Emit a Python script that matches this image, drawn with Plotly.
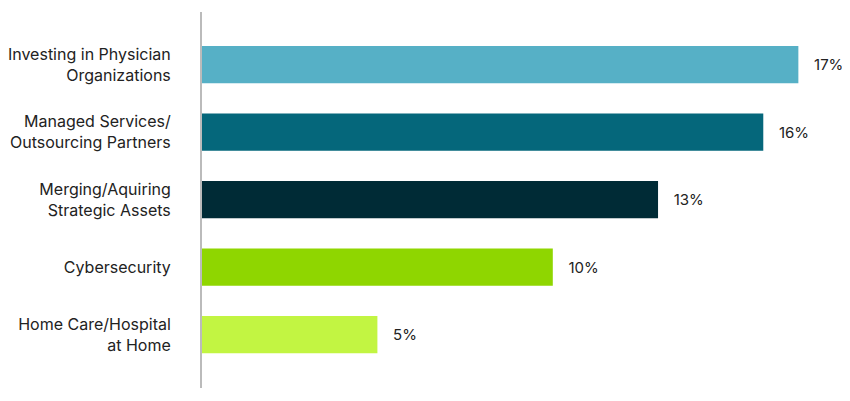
import plotly.graph_objects as go

categories = ["Investing in Physician<br>Organizations",
              "Managed Services/<br>Outsourcing Partners",
              "Merging/Aquiring<br>Strategic Assets",
              "Cybersecurity",
              "Home Care/Hospital<br>at Home"]
values = [17, 16, 13, 10, 5]
colors = ["#56B0C6", "#05677B", "#002B36", "#8FD600", "#C2F542"]

fig = go.Figure(go.Bar(
    x=values, y=categories, orientation="h",
    marker=dict(color=colors, line=dict(width=0)),
    width=0.55,
    text=[f"   {v}%" for v in values], textposition="outside",
    textfont=dict(size=15, color="#222222"), cliponaxis=False,
))

fig.update_layout(
    width=850, height=401,
    margin=dict(l=190, r=0, t=4, b=21),
    plot_bgcolor="white", paper_bgcolor="white",
    font=dict(family="Inter", size=16, color="#222222"),
    showlegend=False,
    xaxis=dict(range=[0, 18.7], visible=False),
    yaxis=dict(range=[4.79, -0.78], showline=True, linecolor="#BBBBBB",
               linewidth=2, ticks="", ticklabelstandoff=26, showgrid=False),
)

fig.write_html("out.html")
